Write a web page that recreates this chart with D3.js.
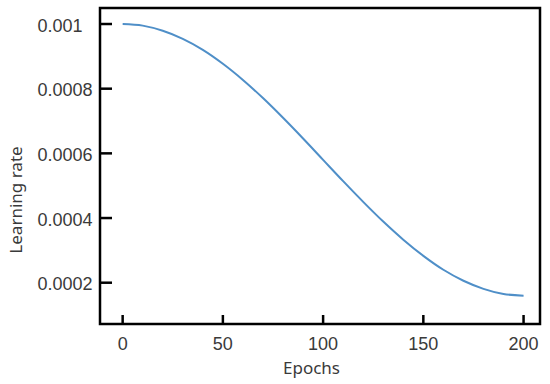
<!DOCTYPE html>
<html>
<head>
<meta charset="utf-8">
<style>
  body { margin: 0; background: #fff; }
  svg { display: block; }
</style>
</head>
<body>
<svg width="550" height="384"></svg>
<script src="https://d3js.org/d3.v7.min.js"></script>
<script>
// learning rate, every 10 epochs
let epochs = [0, 10, 20, 30, 40, 50, 60, 70, 80, 90, 100,
              110, 120, 130, 140, 150, 160, 170, 180, 190, 200];
let lr = [0.001, 0.000995, 0.000979, 0.000954, 0.000920, 0.000877, 0.000827,
          0.000771, 0.000710, 0.000646, 0.000580, 0.000514, 0.000450, 0.000389,
          0.000333, 0.000283, 0.000240, 0.000206, 0.000181, 0.000165, 0.000160];
let xTicks = [0, 50, 100, 150, 200];
let yTicks = [0.0002, 0.0004, 0.0006, 0.0008, 0.001];
let yTickText = ["0.0002", "0.0004", "0.0006", "0.0008", "0.001"];

let svg = d3.select("svg");
let plotL = 100, plotR = 540, plotT = 8, plotB = 324;
let numFont = "'Liberation Sans', Arial, Helvetica, sans-serif";
let titleFont = "'Noto Sans', 'Open Sans', sans-serif";

let x = d3.scaleLinear().domain([-11.3, 208.2]).range([plotL, plotR]);
let y = d3.scaleLinear().domain([0.0000723, 0.0010495]).range([plotB, plotT]);

// curve
let line = d3.line()
    .x((d, i) => x(epochs[i]))
    .y(d => y(d))
    .curve(d3.curveCatmullRom);

svg.append("path")
    .datum(lr)
    .attr("d", line)
    .attr("fill", "none")
    .attr("stroke", "#4f8fc8")
    .attr("stroke-width", 2);

// frame
svg.append("rect")
    .attr("x", plotL).attr("y", plotT)
    .attr("width", plotR - plotL).attr("height", plotB - plotT)
    .attr("fill", "none")
    .attr("stroke", "#000")
    .attr("stroke-width", 2.5);

// x ticks (inward)
svg.append("g").selectAll("line")
    .data(xTicks)
    .join("line")
    .attr("x1", d => x(d)).attr("x2", d => x(d))
    .attr("y1", plotB).attr("y2", plotB - 9)
    .attr("stroke", "#000").attr("stroke-width", 2.5);

svg.append("g").selectAll("text")
    .data(xTicks)
    .join("text")
    .attr("font-family", numFont)
    .attr("font-size", 18)
    .attr("fill", "#3a3a3a")
    .attr("x", d => x(d))
    .attr("y", 350)
    .attr("text-anchor", "middle")
    .text(d => d);

// y ticks (inward)
svg.append("g").selectAll("line")
    .data(yTicks)
    .join("line")
    .attr("x1", plotL).attr("x2", plotL + 12)
    .attr("y1", d => y(d)).attr("y2", d => y(d))
    .attr("stroke", "#000").attr("stroke-width", 2.5);

svg.append("g").selectAll("text")
    .data(yTicks)
    .join("text")
    .attr("font-family", numFont)
    .attr("font-size", 18)
    .attr("fill", "#3a3a3a")
    .attr("x", 37.5)
    .attr("y", d => y(d) + 7.7)
    .attr("text-anchor", "start")
    .text((d, i) => yTickText[i]);

// axis titles
svg.append("text")
    .attr("font-family", titleFont)
    .attr("font-size", 17)
    .attr("fill", "#3a3a3a")
    .attr("x", 311.5)
    .attr("y", 374)
    .attr("text-anchor", "middle")
    .text("Epochs");

svg.append("text")
    .attr("font-family", titleFont)
    .attr("font-size", 17)
    .attr("fill", "#3a3a3a")
    .attr("transform", "translate(22,200) rotate(-90)")
    .attr("text-anchor", "middle")
    .text("Learning rate");
</script>
</body>
</html>
